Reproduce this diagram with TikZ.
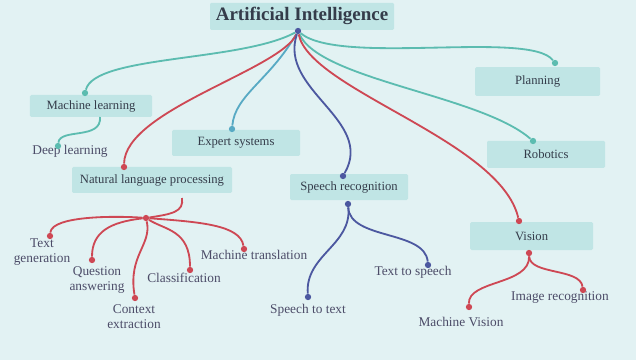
\documentclass[tikz,border=0pt]{standalone}
\usepackage{fontspec}
\setmainfont{Liberation Serif}
\usepackage{xcolor}
\usepackage{tikz}
\usetikzlibrary{positioning}
\definecolor{bgcol}{RGB}{226,242,243}
\definecolor{boxcol}{RGB}{192,229,229}
\definecolor{ink}{RGB}{52,60,74}
\definecolor{leafink}{RGB}{76,76,104}
\definecolor{lnteal}{RGB}{92,188,176}
\definecolor{lnsky}{RGB}{88,170,196}
\definecolor{lnred}{RGB}{206,72,84}
\definecolor{lnblue}{RGB}{76,88,160}
\tikzstyle{topic} = [fill = boxcol, text = ink, rounded corners = 1pt, inner sep = 0, font = \fontsize{9}{11}\selectfont]
\tikzstyle{leaf} = [text = leafink, align = center, inner sep = 0, font = \fontsize{9.5}{10.5}\selectfont]
\tikzstyle{dot} = [circle, fill, inner sep = 0, minimum size = 4.5pt]
\tikzstyle{link} = [-, line width = 1.3pt]

\begin{document}
\begin{tikzpicture}
\useasboundingbox (0, 0) rectangle (15.9, 9);
\fill [bgcol] (0, 0) rectangle (15.9, 9);
%\node [draw=none, font=\small] at (7.5, 9.3) {\bf Artificial Intelligence};
\node [topic, minimum width = 4.6cm, minimum height = 0.68cm, font = \fontsize{13.5}{15}\selectfont\bfseries] (AI) at (7.55, 8.59) {Artificial Intelligence};
\node [topic, minimum width = 3.05cm, minimum height = 0.55cm] (ML) at (2.275, 6.35) {Machine learning};
\node [topic, minimum width = 3.2cm, minimum height = 0.65cm] (ES) at (5.9, 5.425) {Expert systems};
\node [topic, minimum width = 4cm, minimum height = 0.65cm] (NLP) at (3.8, 4.5) {Natural language processing};
\node [topic, minimum width = 2.95cm, minimum height = 0.65cm] (SR) at (8.725, 4.325) {Speech recognition};
\node [topic, minimum width = 3.125cm, minimum height = 0.72cm] (PL) at (13.44, 6.96) {Planning};
\node [topic, minimum width = 2.95cm, minimum height = 0.68cm] (RB) at (13.65, 5.14) {Robotics};
\node [topic, minimum width = 3.075cm, minimum height = 0.7cm] (VS) at (13.29, 3.1) {Vision};

\node [leaf] (DL) at (1.75, 5.225) {Deep learning};
\node [leaf] (TG) at (1.05, 2.7) {Text\\generation};
\node [leaf] (QA) at (2.425, 2.0) {Question\\answering};
\node [leaf] (CE) at (3.35, 1.075) {Context\\extraction};
\node [leaf] (CL) at (4.6, 2.05) {Classification};
\node [leaf] (MT) at (6.35, 2.625) {Machine translation};
\node [leaf] (STT) at (7.7, 1.25) {Speech to text};
\node [leaf] (TTS) at (10.325, 2.2) {Text to speech};
\node [leaf] (IR) at (14.0, 1.55) {Image recognition};
\node [leaf] (MV) at (11.525, 0.95) {Machine Vision};

\node [dot, lnblue] (ai) at (7.45, 8.225) {};
\node [dot, lnteal] (mlT) at (2.125, 6.675) {};
\node [dot, lnsky] (esT) at (5.8, 5.775) {};
\node [dot, lnred] (nlpT) at (3.1, 4.825) {};
\node [dot, lnblue] (srT) at (8.575, 4.6) {};
\node [dot, lnteal] (plT) at (13.875, 7.425) {};
\node [dot, lnteal] (rbT) at (13.325, 5.475) {};
\node [dot, lnred] (vsT) at (12.975, 3.475) {};
\coordinate (mlB) at (2.5, 6.075);
\coordinate (nlpB) at (4.55, 4.05);
\node [dot, lnblue] (srB) at (8.7, 3.9) {};
\node [dot, lnred] (vsB) at (13.225, 2.675) {};
\node [dot, lnred] (hub) at (3.65, 3.55) {};

\node [dot, lnteal] (dl) at (1.45, 5.35) {};
\node [dot, lnred] (tg) at (1.25, 3.1) {};
\node [dot, lnred] (qa) at (2.3, 2.5) {};
\node [dot, lnred] (ce) at (3.375, 1.55) {};
\node [dot, lnred] (cl) at (4.75, 2.25) {};
\node [dot, lnred] (mt) at (6.1, 2.775) {};
\node [dot, lnblue] (stt) at (7.7, 1.575) {};
\node [dot, lnblue] (tts) at (10.7, 2.375) {};
\node [dot, lnred] (mv) at (11.725, 1.325) {};
\node [dot, lnred] (ir) at (14.575, 1.75) {};

\draw [link, lnteal] (ai) .. controls (6.0, 7.45) and (2.375, 7.625) .. (mlT);
\draw [link, lnsky] (ai) .. controls (6.75, 7.0) and (5.875, 6.625) .. (esT);
\draw [link, lnred] (ai) .. controls (7.0, 7.25) and (3.125, 6.25) .. (nlpT);
\draw [link, lnblue] (ai) .. controls (6.95, 6.75) and (9.375, 6.0) .. (srT);
\draw [link, lnteal] (ai) .. controls (8.5, 7.35) and (13.25, 8.25) .. (plT);
\draw [link, lnteal] (ai) .. controls (8.0, 7.0) and (12.0, 6.625) .. (rbT);
\draw [link, lnred] (ai) .. controls (7.75, 6.75) and (12.5, 5.5) .. (vsT);

\draw [link, lnteal] (mlB) .. controls (2.55, 5.5) and (1.5, 5.8) .. (dl);
\draw [link, lnred] (nlpB) .. controls (4.6, 3.7) and (4.3, 3.65) .. (hub);
\draw [link, lnred] (hub) .. controls (3.0, 3.6) and (1.3, 3.625) .. (tg);
\draw [link, lnred] (hub) .. controls (2.75, 3.45) and (2.3, 3.2) .. (qa);
\draw [link, lnred] (hub) .. controls (3.8, 2.875) and (3.2, 2.625) .. (ce);
\draw [link, lnred] (hub) .. controls (4.125, 3.25) and (4.75, 3.25) .. (cl);
\draw [link, lnred] (hub) .. controls (5.0, 3.45) and (6.0, 3.375) .. (mt);
\draw [link, lnblue] (srB) .. controls (8.8, 2.875) and (7.625, 2.625) .. (stt);
\draw [link, lnblue] (srB) .. controls (8.75, 3.0) and (10.625, 3.25) .. (tts);
\draw [link, lnred] (vsB) .. controls (13.25, 1.875) and (11.7, 2.0) .. (mv);
\draw [link, lnred] (vsB) .. controls (13.25, 2.125) and (14.5, 2.3) .. (ir);
\end{tikzpicture}
\end{document}
